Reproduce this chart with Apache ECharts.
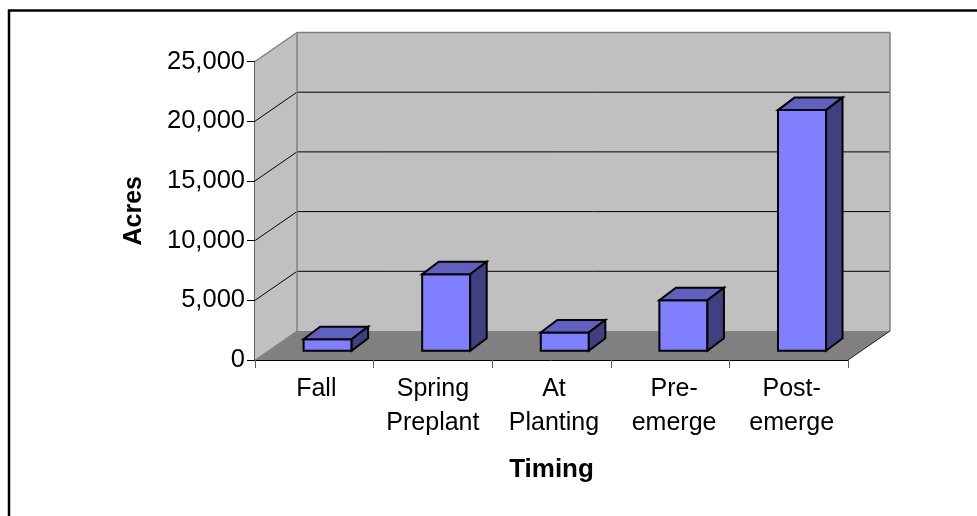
<!DOCTYPE html>
<html><head><meta charset="utf-8">
<style>html,body{margin:0;padding:0;background:#fff}#c{width:977px;height:516px}</style>
<script src="https://cdn.jsdelivr.net/npm/echarts@6/dist/echarts.min.js"></script>
</head><body><div id="c"></div>
<script>
const categories = ['Fall', 'Spring\nPreplant', 'At\nPlanting', 'Pre-\nemerge', 'Post-\nemerge'];
const acres = [960, 6400, 1520, 4230, 20150];
const yTicks = [0, 5000, 10000, 15000, 20000, 25000];

const FONT = '"Liberation Sans", Arial, sans-serif';
const DEPTH_X = 42, DEPTH_Y = 29;            // wall depth
const BAR_SHIFT_X = 13.3, BAR_SHIFT_Y = 9.3; // front face of bar behind the axis plane
const BAR_DX = 16.5, BAR_DY = 12.5;          // bar depth
const BAR_RATIO = 0.405;
const LABEL_PAD_LEFT = [4, 0, 5, 8, 6];      // small horizontal nudges of the category labels

const chart = echarts.init(document.getElementById('c'), null, {renderer: 'canvas'});

function poly(points, fill, stroke, lw, z2) {
  return {type: 'polygon', shape: {points}, z2: z2 || 0,
    style: {fill, stroke: stroke || null, lineWidth: lw || 0, lineJoin: 'miter'}};
}
function seg(a, b, stroke, lw, z2) {
  return {type: 'line', shape: {x1: a[0], y1: a[1], x2: b[0], y2: b[1]}, z2: z2 || 0,
    style: {stroke, lineWidth: lw}};
}

function renderWalls(params, api) {
  const n = categories.length;
  const p0 = api.coord([0, 0]);
  const bw = api.size([1, 0])[0];
  const xl = p0[0] - bw / 2, xr = xl + bw * n;
  const y0 = p0[1], yT = api.coord([0, yTicks[yTicks.length - 1]])[1];
  const kids = [];
  const GRAY = '#808080';
  kids.push(poly([[xl + DEPTH_X, yT - DEPTH_Y], [xr + DEPTH_X, yT - DEPTH_Y], [xr + DEPTH_X, y0 - DEPTH_Y], [xl + DEPTH_X, y0 - DEPTH_Y]], '#c0c0c0'));
  kids.push(poly([[xl, yT], [xl + DEPTH_X, yT - DEPTH_Y], [xl + DEPTH_X, y0 - DEPTH_Y], [xl, y0]], '#c0c0c0'));
  kids.push(poly([[xl, y0], [xr, y0], [xr + DEPTH_X, y0 - DEPTH_Y], [xl + DEPTH_X, y0 - DEPTH_Y]], GRAY));
  yTicks.forEach(v => {
    if (v === 0) return;
    const y = api.coord([0, v])[1];
    const top = v === yTicks[yTicks.length - 1];
    const c = top ? GRAY : '#000';
    const w = top ? 1.5 : 1;
    kids.push(seg([xl, y], [xl + DEPTH_X, y - DEPTH_Y], c, w));
    kids.push(seg([xl + DEPTH_X, y - DEPTH_Y], [xr + DEPTH_X, y - DEPTH_Y], c, w));
  });
  kids.push(seg([xl + DEPTH_X, yT - DEPTH_Y], [xl + DEPTH_X, y0 - DEPTH_Y], GRAY, 1.5));
  kids.push(seg([xr + DEPTH_X, yT - DEPTH_Y], [xr + DEPTH_X, y0 - DEPTH_Y], GRAY, 1.5));
  kids.push(seg([xl, y0], [xl + DEPTH_X, y0 - DEPTH_Y], GRAY, 1));
  kids.push(seg([xr, y0], [xr + DEPTH_X, y0 - DEPTH_Y], '#222', 1));
  return {type: 'group', children: kids};
}

function renderBar(params, api) {
  const i = api.value(0), v = api.value(1);
  const base = api.coord([i, 0]), top = api.coord([i, v]);
  const w = api.size([1, 0])[0] * BAR_RATIO;
  const xa = base[0] - w / 2 + BAR_SHIFT_X, xb = xa + w;
  const yb = base[1] - BAR_SHIFT_Y, yt = top[1] - BAR_SHIFT_Y;
  const K = '#000', LW = 2;
  return {type: 'group', children: [
    poly([[xa, yb], [xb, yb], [xb, yt], [xa, yt]], '#8080ff', K, LW),
    poly([[xa, yt], [xb, yt], [xb + BAR_DX, yt - BAR_DY], [xa + BAR_DX, yt - BAR_DY]], '#6060c0', K, LW),
    poly([[xb, yb], [xb + BAR_DX, yb - BAR_DY], [xb + BAR_DX, yt - BAR_DY], [xb, yt]], '#404080', K, LW)
  ]};
}

chart.setOption({
  animation: false,
  backgroundColor: '#fff',
  grid: {left: 255, right: 129, top: 61.5, height: 298.5, containLabel: false},
  xAxis: {
    type: 'category',
    data: categories.map((c, i) => ({value: c, textStyle: {padding: [0, 0, 0, LABEL_PAD_LEFT[i]]}})),
    name: 'Timing', nameLocation: 'middle', nameGap: 97,
    nameTextStyle: {fontFamily: FONT, fontSize: 26, fontWeight: 'bold', color: '#000'},
    axisLine: {show: true, lineStyle: {color: '#000', width: 1}},
    axisTick: {show: true, length: 8, alignWithLabel: false, lineStyle: {color: '#606060', width: 1}},
    axisLabel: {interval: 0, margin: 12, fontFamily: FONT, fontSize: 25, lineHeight: 34, color: '#000'},
    splitLine: {show: false}
  },
  yAxis: {
    type: 'value', min: 0, max: 25000, interval: 5000,
    name: 'Acres', nameLocation: 'middle', nameGap: 108.5, nameRotate: 90,
    nameTextStyle: {fontFamily: FONT, fontSize: 25, fontWeight: 'bold', color: '#000'},
    axisLine: {show: true, lineStyle: {color: '#333', width: 1.5}},
    axisTick: {show: true, length: 8, lineStyle: {color: '#000', width: 1}},
    axisLabel: {margin: 10, fontFamily: FONT, fontSize: 25.5, color: '#000',
      formatter: v => v.toLocaleString('en-US')},
    splitLine: {show: false}
  },
  graphic: [{type: 'rect', shape: {x: 9, y: 10.5, width: 1000, height: 1000}, z: -1,
    style: {fill: 'none', stroke: '#000', lineWidth: 2.5}}],
  series: [
    {type: 'custom', data: [[0, 0]], z: 1, clip: false, renderItem: renderWalls, encode: {x: 0, y: 1}, silent: true},
    {type: 'custom', data: acres.map((v, i) => [i, v]), z: 3, clip: false, renderItem: renderBar, encode: {x: 0, y: 1}, silent: true}
  ]
});
</script></body></html>
